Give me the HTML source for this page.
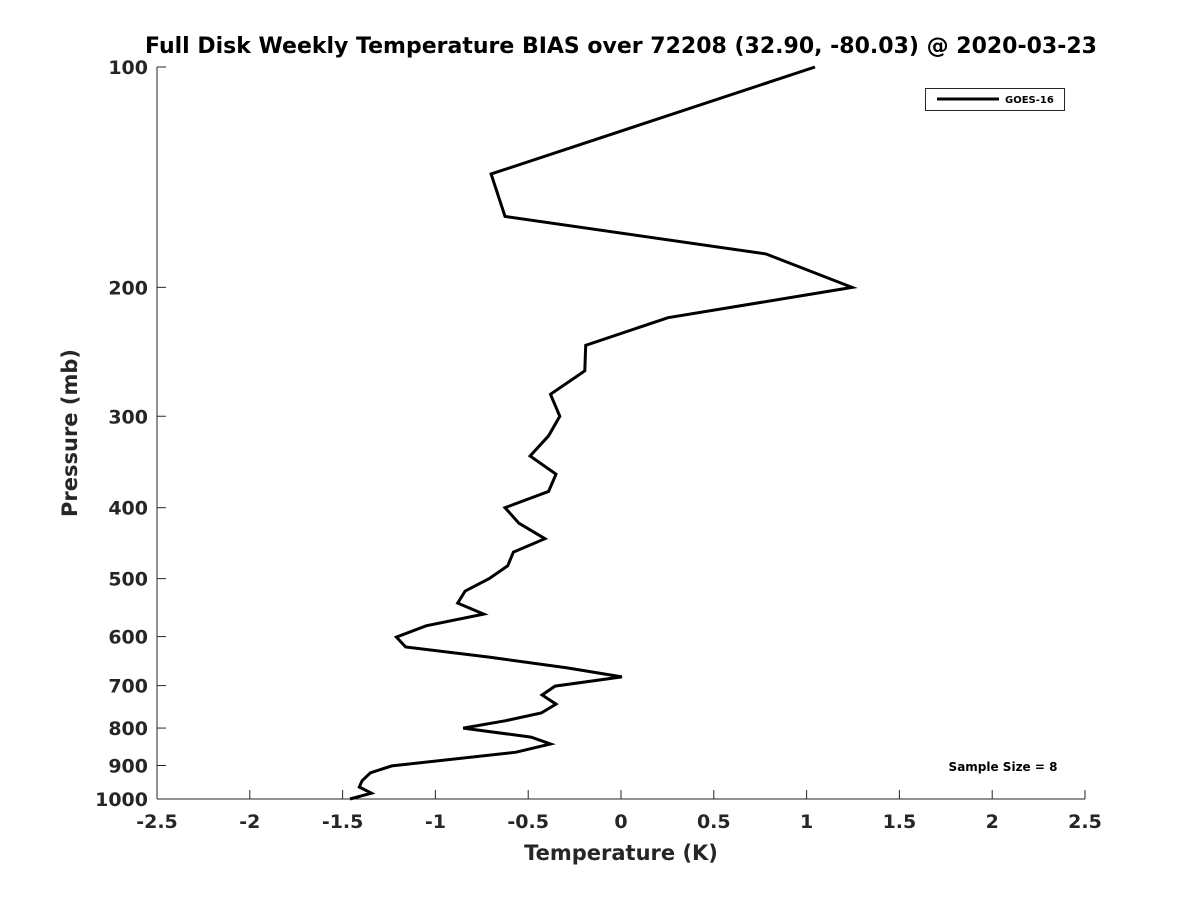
<!DOCTYPE html>
<html><head><meta charset="utf-8"><style>
body{margin:0;background:#fff;}
svg{display:block;font-family:"DejaVu Sans","Liberation Sans",sans-serif;font-weight:bold;}
</style></head><body>
<svg id="chart" width="1200" height="900">
<text x="621" y="53" text-anchor="middle" font-size="22" fill="#000">Full Disk Weekly Temperature BIAS over 72208 (32.90, -80.03) @ 2020-03-23</text>
<g id="axes"></g>
<text x="621" y="860" text-anchor="middle" font-size="21" fill="#262626">Temperature (K)</text>
<text transform="translate(77,433) rotate(-90)" text-anchor="middle" font-size="21" fill="#262626">Pressure (mb)</text>
<g>
<rect x="925.5" y="88.5" width="139" height="22" fill="#fff" stroke="#262626" stroke-width="1"/>
<line x1="937" y1="99" x2="999" y2="99" stroke="#000" stroke-width="3"/>
<text x="1005" y="103" font-size="10" fill="#000">GOES-16</text>
</g>
<text x="1003" y="771" text-anchor="middle" font-size="12" fill="#000">Sample Size = 8</text>
</svg>
<script>
const pressures=[100,140,160,180,200,220,240,260,280,300,319,340,360,380,400,420,441,460,480,500,520,540,559,580,601,620,640,662,681,701,721,742,763,782,800,823,841,863,901,921,944,963,982,1000];
const biasGoes16=[1.045,-0.70,-0.625,0.78,1.245,0.253,-0.19,-0.195,-0.38,-0.33,-0.39,-0.49,-0.35,-0.39,-0.625,-0.55,-0.41,-0.58,-0.61,-0.71,-0.84,-0.88,-0.74,-1.05,-1.21,-1.16,-0.71,-0.29,0.005,-0.355,-0.425,-0.35,-0.43,-0.625,-0.85,-0.485,-0.38,-0.565,-1.235,-1.35,-1.395,-1.41,-1.345,-1.46];
const xTicks=[-2.5,-2,-1.5,-1,-0.5,0,0.5,1,1.5,2,2.5];
const yTicks=[100,200,300,400,500,600,700,800,900,1000];
const X0=157,X1=1085,Y0=67,Y1=799;
function xs(v){return X0+(v+2.5)/5*(X1-X0);}
function ys(p){return Y0+(Math.log10(p)-2)*(Y1-Y0);}
const NS='http://www.w3.org/2000/svg';
const g=document.getElementById('axes');
function mk(t,a){const e=document.createElementNS(NS,t);for(const k in a)e.setAttribute(k,a[k]);g.appendChild(e);return e;}
let e=mk('line',{x1:X0,y1:Y0,x2:X0,y2:Y1,stroke:'#262626','stroke-width':1});


e=mk('line',{x1:X0,y1:Y1,x2:X1,y2:Y1,stroke:'#262626','stroke-width':1});


xTicks.forEach(v=>{const x=xs(v);
 const t=mk('line',{x1:x,y1:Y1,x2:x,y2:Y1-9,stroke:'#262626'});
 
 
 const l=mk('text',{x:x,y:Y1+29,'text-anchor':'middle','font-size':19,fill:'#262626'});
 l.textContent=String(v);
 
 
});
yTicks.forEach(p=>{const y=ys(p);
 const t=mk('line',{x1:X0,y1:y,x2:X0+9,y2:y,stroke:'#262626'});
 
 
 const l=mk('text',{x:X0-9,y:y+7,'text-anchor':'end','font-size':19,fill:'#262626'});
 l.textContent=String(p);
 
 
});
const pts=pressures.map((p,i)=>xs(biasGoes16[i]).toFixed(1)+','+ys(p).toFixed(1)).join(' ');
const line=mk('polyline',{points:pts,fill:'none',stroke:'#000','stroke-width':3,'stroke-linejoin':'miter'});


</script>
</body></html>
